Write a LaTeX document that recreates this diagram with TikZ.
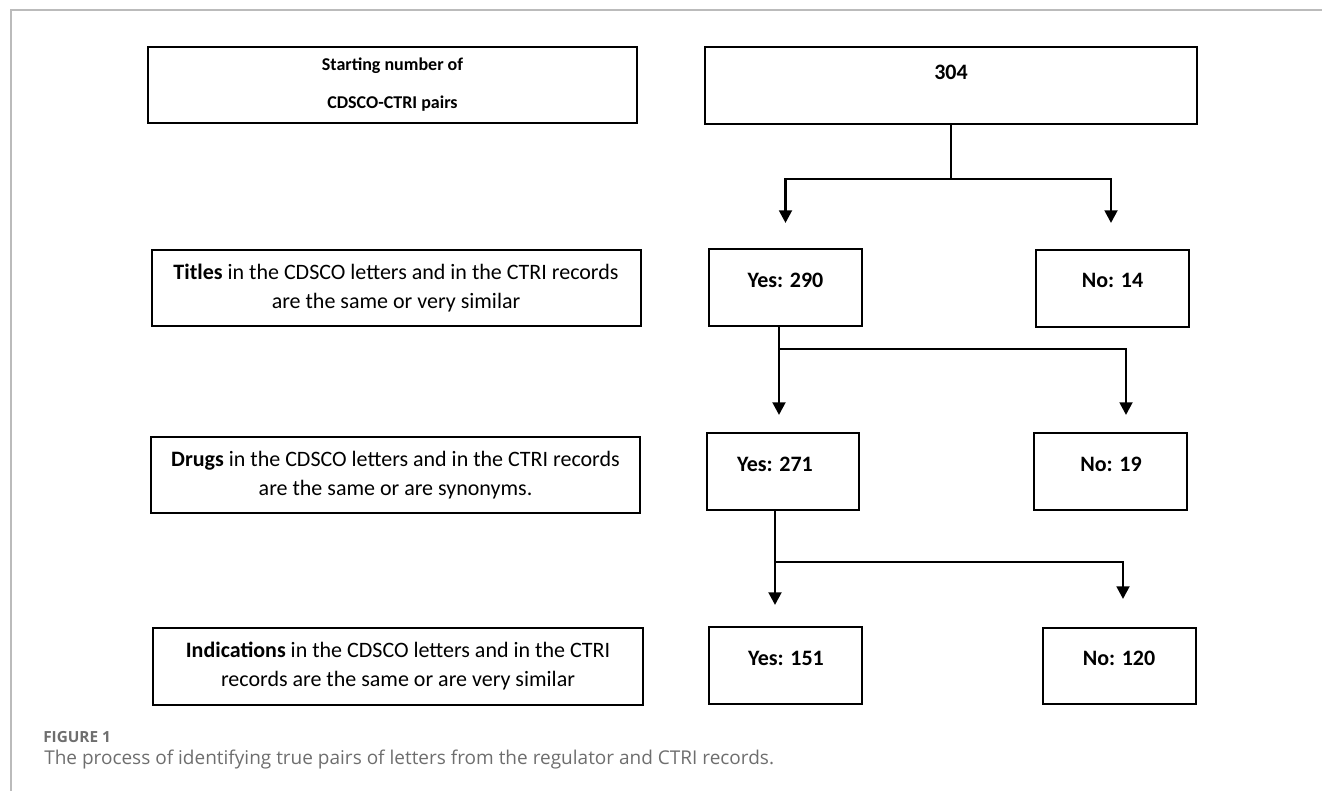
\documentclass[tikz,border=0pt]{standalone}
\usepackage{fontspec}
\setmainfont{Carlito}
\newfontfamily\capfont{Open Sans}
\usetikzlibrary{arrows.meta,calc}
\definecolor{framegray}{HTML}{BBBBBB}
\definecolor{capgray}{HTML}{6E6E6E}
\begin{document}
\begin{tikzpicture}[x=0.75pt,y=-0.75pt,
  box/.style={draw=black, line width=1.5pt, inner sep=0pt},
  wide/.style={box, minimum width=366.75pt, minimum height=57pt},
  small/.style={box, minimum width=114.75pt, minimum height=57.75pt},
  longtxt/.style={align=center, inner sep=0pt, font=\fontsize{16.5pt}{21.75pt}\selectfont},
  num/.style={inner sep=0pt, font=\fontsize{16.5pt}{20pt}\selectfont\bfseries},
  arr/.style={line width=2.1pt, -{Triangle[width=9.5pt,length=9.5pt]}}
]
\useasboundingbox (0,0) rectangle (1322,791);
% frame
\draw[framegray, line width=1.1pt] (11,791) -- (11,10) -- (1322,10);

% row 1
\node[box, minimum width=366.75pt, minimum height=57pt, align=center,
      font=\fontsize{13.5pt}{28.5pt}\selectfont\bfseries] (start) at (392.5,85)
      {Starting number of\\CDSCO-CTRI pairs};
\node[box, minimum width=369pt, minimum height=57.75pt] (n304) at (951,85.5) {};
\node[num] (t304) at (951,72) {304};

% row 2
\node[wide, longtxt] (titles) at (396,288)
  {\textbf{Titles} in the CDSCO letters and in the CTRI records\\are the same or very similar};
\node[small] (yes1) at (785.5,287.5) {};
\node[num] (tyes1) at (785.5,280) {Yes: 290};
\node[small] (no1) at (1112.5,288.5) {};
\node[num] (tno1) at (1112.5,280) {No: 14};

% row 3
\node[wide, longtxt] (drugs) at (395.5,475)
  {\textbf{Drugs} in the CDSCO letters and in the CTRI records\\are the same or are synonyms.};
\node[small, minimum width=114pt] (yes2) at (783,471.5) {};
\node[num] (tyes2) at (775,464) {Yes: 271};
\node[small] (no2) at (1110.5,471.5) {};
\node[num] (tno2) at (1111,464) {No: 19};

% row 4
\node[wide, longtxt, minimum width=367.5pt, minimum height=57.75pt] (ind) at (398,666.5)
  {\textbf{Indications} in the CDSCO letters and in the CTRI\\records are the same or are very similar};
\node[small] (yes3) at (785.5,665.5) {};
\node[num] (tyes3) at (786,658) {Yes: 151};
\node[small, minimum height=57pt] (no3) at (1119.5,666) {};
\node[num] (tno3) at (1119,658) {No: 120};

% connectors
\coordinate (a1l) at (785.5,223);
\coordinate (a1r) at (1111,223);
\draw[arr] (n304.south) -- ++(0,54) -| (a1l);
\draw[arr] (n304.south) -- ++(0,54) -| (a1r);

\coordinate (a2l) at (779,415);
\coordinate (a2r) at (1126,415);
\draw[arr] (a2l |- yes1.south) -- (a2l);
\draw[arr] (a2l |- yes1.south) -- ++(0,22) -| (a2r);

\coordinate (a3l) at (775,605);
\coordinate (a3r) at (1123,599);
\draw[arr] (a3l |- yes2.south) -- (a3l);
\draw[arr] (a3l |- yes2.south) -- ++(0,51) -| (a3r);

% caption
\node[anchor=west, inner sep=0pt, text=capgray,
      font=\capfont\fontsize{11.5pt}{13pt}\selectfont\bfseries] (fig) at (43,737) {FIGURE 1};
\node[anchor=west, inner sep=0pt, text=capgray,
      font=\capfont\fontsize{14.25pt}{17pt}\selectfont] (cap) at (44,760)
  {The process of identifying true pairs of letters from the regulator and CTRI records.};
\end{tikzpicture}
\end{document}
